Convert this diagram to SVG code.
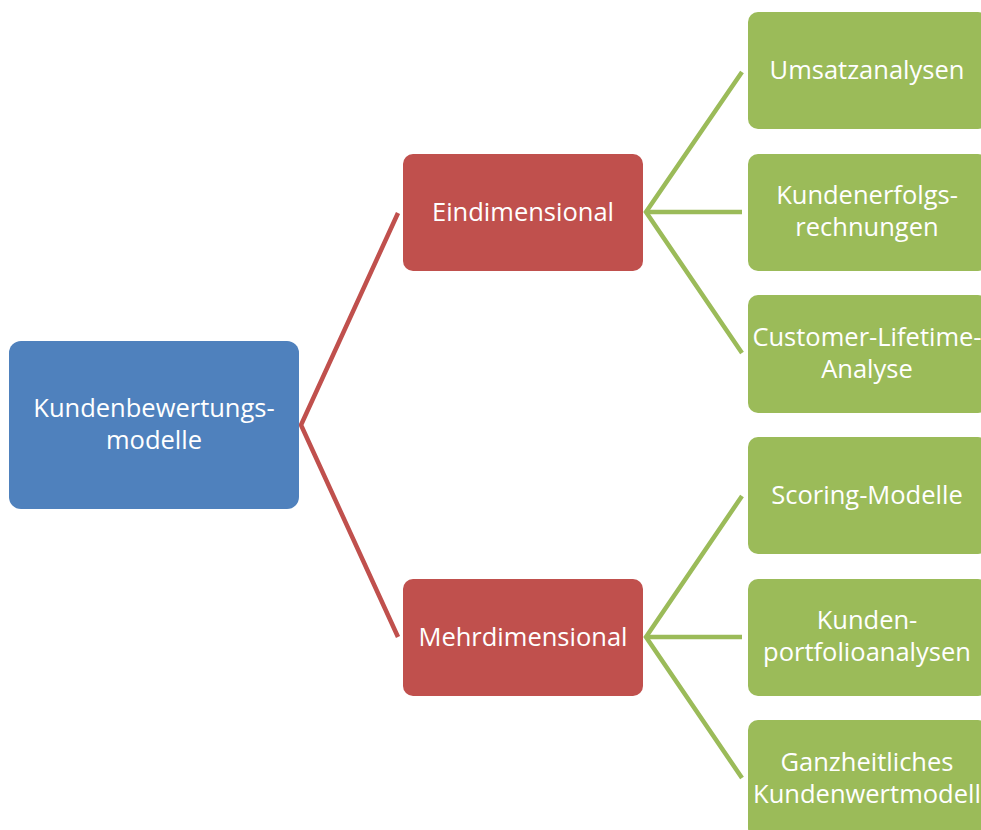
<svg xmlns="http://www.w3.org/2000/svg" width="981" height="830" viewBox="0 0 981 830">
<style>
.t{font-family:"Open Sans","Noto Sans","DejaVu Sans",sans-serif;font-size:25.5px;fill:#fff;text-anchor:middle}
.root{fill:#4F81BD}
.mid{fill:#C0504D}
.leaf{fill:#9BBB59}
.cr{stroke:#C0504D;stroke-width:4.5;fill:none;stroke-linejoin:miter}
.cg{stroke:#9BBB59;stroke-width:4.5;fill:none;stroke-linejoin:miter}
</style>
<rect width="981" height="830" fill="#fff"/>
<g id="connectors">
<polyline class="cr" points="398,213 301,425 398,637"/>
<polyline class="cg" points="742,72 646,212 742,353"/>
<line class="cg" x1="646" y1="212" x2="742" y2="212"/>
<polyline class="cg" points="742,496 646,637 742,778"/>
<line class="cg" x1="646" y1="637" x2="742" y2="637"/>
</g>
<g id="n-root">
<rect class="root" x="9" y="341" width="290" height="168" rx="12"/>
<text class="t" x="154" y="417">Kundenbewertungs-</text>
<text class="t" x="154" y="449">modelle</text>
</g>
<g id="n-eindimensional">
<rect class="mid" x="403" y="154" width="240" height="117" rx="10"/>
<text class="t" x="523" y="221">Eindimensional</text>
</g>
<g id="n-mehrdimensional">
<rect class="mid" x="403" y="579" width="240" height="117" rx="10"/>
<text class="t" x="523" y="646">Mehrdimensional</text>
</g>
<g id="n-umsatz">
<rect class="leaf" x="748" y="12" width="240" height="117" rx="10"/>
<text class="t" x="867" y="79">Umsatzanalysen</text>
</g>
<g id="n-kundenerfolg">
<rect class="leaf" x="748" y="154" width="240" height="117" rx="10"/>
<text class="t" x="867" y="204">Kundenerfolgs-</text>
<text class="t" x="867" y="236">rechnungen</text>
</g>
<g id="n-clv">
<rect class="leaf" x="748" y="295" width="240" height="118" rx="10"/>
<text class="t" x="867" y="346">Customer-Lifetime-</text>
<text class="t" x="867" y="378">Analyse</text>
</g>
<g id="n-scoring">
<rect class="leaf" x="748" y="437" width="240" height="117" rx="10"/>
<text class="t" x="867" y="504">Scoring-Modelle</text>
</g>
<g id="n-portfolio">
<rect class="leaf" x="748" y="579" width="240" height="117" rx="10"/>
<text class="t" x="867" y="629">Kunden-</text>
<text class="t" x="867" y="661">portfolioanalysen</text>
</g>
<g id="n-ganzheitlich">
<rect class="leaf" x="748" y="720" width="240" height="118" rx="10"/>
<text class="t" x="867" y="771">Ganzheitliches</text>
<text class="t" x="867" y="803">Kundenwertmodell</text>
</g>
</svg>
